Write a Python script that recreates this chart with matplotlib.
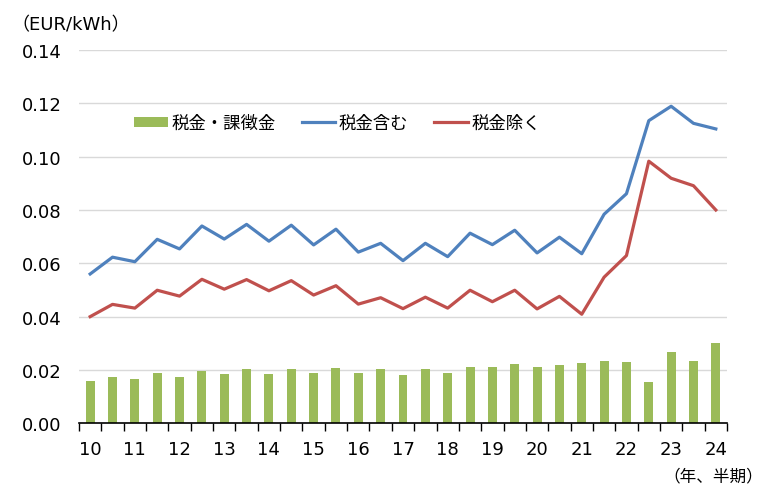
import matplotlib
matplotlib.use("Agg")
import matplotlib.pyplot as plt
import numpy as np

plt.rcParams['font.family'] = ['DejaVu Sans', 'Noto Sans CJK JP']

periods = ["10", "10H2", "11", "11H2", "12", "12H2", "13", "13H2", "14", "14H2",
           "15", "15H2", "16", "16H2", "17", "17H2", "18", "18H2", "19", "19H2",
           "20", "20H2", "21", "21H2", "22", "22H2", "23", "23H2", "24"]
tax_levies = [0.0159, 0.0174, 0.0166, 0.0189, 0.0174, 0.0196, 0.0185, 0.0204, 0.0185, 0.0204,
              0.0189, 0.0207, 0.0189, 0.0204, 0.0181, 0.0204, 0.0189, 0.0211, 0.0211, 0.0222,
              0.0211, 0.0219, 0.0226, 0.0234, 0.0230, 0.0155, 0.0267, 0.0234, 0.0301]
incl_tax = [0.0560, 0.0623, 0.0606, 0.0690, 0.0654, 0.0740, 0.0691, 0.0746, 0.0683, 0.0743,
            0.0669, 0.0728, 0.0642, 0.0675, 0.0610, 0.0675, 0.0625, 0.0713, 0.0670, 0.0724,
            0.0639, 0.0698, 0.0636, 0.0784, 0.0861, 0.1135, 0.1189, 0.1125, 0.1104]
excl_tax = [0.0400, 0.0446, 0.0432, 0.0499, 0.0477, 0.0540, 0.0503, 0.0539, 0.0497, 0.0535,
            0.0481, 0.0516, 0.0447, 0.0471, 0.0430, 0.0473, 0.0432, 0.0499, 0.0456, 0.0499,
            0.0429, 0.0476, 0.0409, 0.0548, 0.0629, 0.0983, 0.0919, 0.0891, 0.0800]
year_labels = ["10", "11", "12", "13", "14", "15", "16", "17", "18", "19", "20", "21", "22", "23", "24"]
y_ticks = [0.00, 0.02, 0.04, 0.06, 0.08, 0.10, 0.12, 0.14]

green = "#9BBB59"
blue = "#4F81BD"
red = "#C0504D"

fig = plt.figure(figsize=(7.66, 5.02), dpi=100)
ax = fig.add_axes([79/766, 1-424.3/502, 648/766, (424.3-51)/502])

x = np.arange(len(periods))
bars = ax.bar(x, tax_levies, width=0.4, color=green, zorder=2, label="税金・課徴金")
l1, = ax.plot(x, incl_tax, color=blue, lw=2.3, zorder=3, label="税金含む")
l2, = ax.plot(x, excl_tax, color=red, lw=2.3, zorder=3, label="税金除く")

ax.set_xlim(-0.5, len(periods) - 0.5)
ax.set_ylim(0, 0.14)
ax.set_yticks(y_ticks)
ax.set_yticklabels([f"{v:.2f}" for v in y_ticks], fontsize=13)
ax.set_xticks(np.arange(0, len(periods), 2))
ax.set_xticklabels(year_labels, fontsize=13)
ax.set_xticks(np.arange(-0.5, len(periods), 1), minor=True)
ax.tick_params(axis='x', which='major', length=0, pad=12)
ax.tick_params(axis='x', which='minor', length=6, width=1, color='black', direction='out')
ax.tick_params(axis='y', length=0, pad=12.5)
ax.grid(axis='y', color='#d9d9d9', lw=1, zorder=0)
ax.set_axisbelow(True)
for s in ['left', 'top', 'right']:
    ax.spines[s].set_visible(False)
ax.spines['bottom'].set_color('black')
ax.spines['bottom'].set_linewidth(1.2)

fig.text(11/766, 1-25/502, "（EUR/kWh）", fontsize=13, va='center', ha='left')
fig.text(763/766, 1-476/502, "（年、半期）", fontsize=12, va='center', ha='right')

leg = fig.legend(handles=[bars, l1, l2], loc='center left',
                 bbox_to_anchor=(134/766, 1-124/502), ncol=3, frameon=False,
                 fontsize=12.5, handlelength=1.95, handletextpad=0.2, columnspacing=1.5,
                 handleheight=0.5, borderpad=0, borderaxespad=0)

fig.savefig("out.png", dpi=100)
